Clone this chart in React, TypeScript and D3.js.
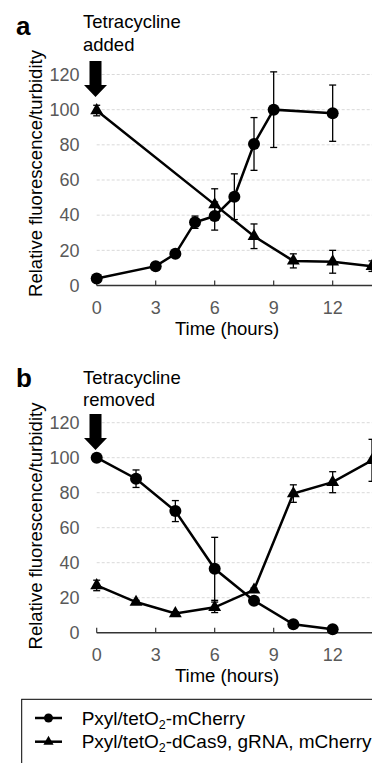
import { useEffect, useRef } from 'react';
import * as d3 from 'd3';

const FONT = '"Liberation Sans", Arial, sans-serif';

// panel a: tetracycline added
const HOURS_A_MCHERRY = [0, 3, 4, 5, 6, 7, 8, 9, 12];
const VALUES_A_MCHERRY = [4, 11, 18, 36, 39.5, 50.5, 80.5, 100, 98];
const ERRORS_A_MCHERRY = [1, 1, 1, 3.5, 8, 13, 15, 21.5, 16];
const HOURS_A_DCAS9 = [0, 6, 8, 10, 12, 14];
const VALUES_A_DCAS9 = [99.5, 46, 28, 14, 13.5, 11];
const ERRORS_A_DCAS9 = [3, 9, 7, 4, 6.5, 3];

// panel b: tetracycline removed
const HOURS_B_MCHERRY = [0, 2, 4, 6, 8, 10, 12];
const VALUES_B_MCHERRY = [100, 88, 69.5, 36.5, 18.3, 4.8, 2];
const ERRORS_B_MCHERRY = [1, 5, 6, 18, 1, 1, 0.5];
const HOURS_B_DCAS9 = [0, 2, 4, 6, 8, 10, 12, 14];
const VALUES_B_DCAS9 = [27, 17.5, 11, 14.5, 24.5, 79.5, 86, 98.5];
const ERRORS_B_DCAS9 = [3, 1, 1, 3, 1, 5, 6, 12];

const X_TICKS = [0, 3, 6, 9, 12];
const Y_TICKS = [0, 20, 40, 60, 80, 100, 120];
const LEGEND_LABELS = [
  ['Pxyl/tetO', '2', '-mCherry'],
  ['Pxyl/tetO', '2', '-dCas9, gRNA, mCherry'],
];

interface Series {
  hours: number[];
  values: number[];
  errors: number[];
  marker: 'circle' | 'triangle';
}

interface PanelConfig {
  letter: string;
  note: string[];
  y0: number;
  y120: number;
  titleCenter: number;
  letterY: number;
  noteY: number;
  noteGap: number;
  arrowTop: number;
  series: Series[];
}

const PANELS: PanelConfig[] = [
  {
    letter: 'a',
    note: ['Tetracycline', 'added'],
    y0: 285.5,
    y120: 74.5,
    titleCenter: 173.5,
    letterY: 35,
    noteY: 28,
    noteGap: 22.5,
    arrowTop: 61,
    series: [
      { hours: HOURS_A_DCAS9, values: VALUES_A_DCAS9, errors: ERRORS_A_DCAS9, marker: 'triangle' },
      { hours: HOURS_A_MCHERRY, values: VALUES_A_MCHERRY, errors: ERRORS_A_MCHERRY, marker: 'circle' },
    ],
  },
  {
    letter: 'b',
    note: ['Tetracycline', 'removed'],
    y0: 632.7,
    y120: 422.7,
    titleCenter: 526,
    letterY: 387,
    noteY: 384,
    noteGap: 21.5,
    arrowTop: 414,
    series: [
      { hours: HOURS_B_DCAS9, values: VALUES_B_DCAS9, errors: ERRORS_B_DCAS9, marker: 'triangle' },
      { hours: HOURS_B_MCHERRY, values: VALUES_B_MCHERRY, errors: ERRORS_B_MCHERRY, marker: 'circle' },
    ],
  },
];

export default function App() {
  const svgRef = useRef<SVGSVGElement>(null);
  const width = 372;
  const height = 763;

  useEffect(() => {
    if (!svgRef.current) return;
    const svg = d3.select(svgRef.current);
    svg.selectAll('*').remove();

    const xScale = d3.scaleLinear().domain([0, 14]).range([96.7, 372]);
    const triangle = d3.symbol().type(d3.symbolTriangle).size(72);

    PANELS.forEach(panel => {
      const g = svg.append('g');
      const yScale = d3.scaleLinear().domain([0, 120]).range([panel.y0, panel.y120]);

      // gridlines
      g.selectAll('.grid')
        .data(Y_TICKS.filter(t => t > 0))
        .enter()
        .append('line')
        .attr('x1', xScale(0))
        .attr('x2', width)
        .attr('y1', d => yScale(d))
        .attr('y2', d => yScale(d))
        .attr('stroke', '#d9d9d9')
        .attr('stroke-width', 1)
        .attr('stroke-dasharray', '3,2');

      // y tick labels (no axis line)
      g.selectAll('.ytick')
        .data(Y_TICKS)
        .enter()
        .append('text')
        .attr('x', 79.5)
        .attr('y', d => yScale(d))
        .attr('dy', '0.35em')
        .attr('text-anchor', 'end')
        .attr('fill', '#595959')
        .attr('font-size', '18px')
        .attr('font-family', FONT)
        .text(d => d);

      // x axis
      g.append('line')
        .attr('x1', xScale(0))
        .attr('x2', width)
        .attr('y1', yScale(0))
        .attr('y2', yScale(0))
        .attr('stroke', '#333')
        .attr('stroke-width', 1.5);

      g.selectAll('.xtickmark')
        .data(X_TICKS)
        .enter()
        .append('line')
        .attr('x1', d => xScale(d))
        .attr('x2', d => xScale(d))
        .attr('y1', yScale(0))
        .attr('y2', yScale(0) - 5)
        .attr('stroke', '#333')
        .attr('stroke-width', 1.2);

      g.selectAll('.xtick')
        .data(X_TICKS)
        .enter()
        .append('text')
        .attr('x', d => xScale(d))
        .attr('y', yScale(0) + 28.5)
        .attr('text-anchor', 'middle')
        .attr('fill', '#595959')
        .attr('font-size', '18px')
        .attr('font-family', FONT)
        .text(d => d);

      g.append('text')
        .attr('x', 227)
        .attr('y', yScale(0) + 49)
        .attr('text-anchor', 'middle')
        .attr('fill', '#000')
        .attr('font-size', '18.5px')
        .attr('font-family', FONT)
        .text('Time (hours)');

      g.append('text')
        .attr('transform', `translate(41.5,${panel.titleCenter}) rotate(-90)`)
        .attr('text-anchor', 'middle')
        .attr('fill', '#000')
        .attr('font-size', '18.5px')
        .attr('font-family', FONT)
        .text('Relative fluorescence/turbidity');

      // panel letter + note
      g.append('text')
        .attr('x', 16)
        .attr('y', panel.letterY)
        .attr('font-weight', 'bold')
        .attr('font-size', '26px')
        .attr('font-family', FONT)
        .attr('fill', '#000')
        .text(panel.letter);

      panel.note.forEach((line, i) => {
        g.append('text')
          .attr('x', 83)
          .attr('y', panel.noteY + i * panel.noteGap)
          .attr('font-size', '18.5px')
          .attr('font-family', FONT)
          .attr('fill', '#000')
          .text(line);
      });

      // arrow pointing at time 0
      const ax = xScale(0) - 1.2;
      const shaftBottom = panel.arrowTop + 24;
      const tip = shaftBottom + 12;
      g.append('path')
        .attr('d', `M${ax - 6},${panel.arrowTop} L${ax + 6},${panel.arrowTop} L${ax + 6},${shaftBottom} L${ax + 11.5},${shaftBottom} L${ax},${tip} L${ax - 11.5},${shaftBottom} L${ax - 6},${shaftBottom} Z`)
        .attr('fill', '#000');

      // series
      panel.series.forEach(s => {
        const pts = s.hours.map((h, i) => ({ h, v: s.values[i], e: s.errors[i] }));

        const eb = g.append('g');
        pts.forEach(p => {
          const x = xScale(p.h);
          const yTop = yScale(p.v + p.e);
          const yBot = yScale(Math.max(0, p.v - p.e));
          eb.append('line').attr('x1', x).attr('x2', x).attr('y1', yTop).attr('y2', yBot)
            .attr('stroke', '#000').attr('stroke-width', 1.3);
          [yTop, yBot].forEach(y => {
            eb.append('line').attr('x1', x - 3.5).attr('x2', x + 3.5).attr('y1', y).attr('y2', y)
              .attr('stroke', '#000').attr('stroke-width', 1.3);
          });
        });

        const line = d3.line<{ h: number; v: number }>()
          .x(d => xScale(d.h))
          .y(d => yScale(d.v));

        g.append('path')
          .datum(pts)
          .attr('fill', 'none')
          .attr('stroke', '#000')
          .attr('stroke-width', 2.5)
          .attr('d', line);

        if (s.marker === 'circle') {
          g.selectAll(null)
            .data(pts)
            .enter()
            .append('circle')
            .attr('cx', d => xScale(d.h))
            .attr('cy', d => yScale(d.v))
            .attr('r', 6)
            .attr('fill', '#000');
        } else {
          g.selectAll(null)
            .data(pts)
            .enter()
            .append('path')
            .attr('transform', d => `translate(${xScale(d.h)},${yScale(d.v)})`)
            .attr('d', triangle)
            .attr('fill', '#000');
        }
      });
    });

    // legend
    const legend = svg.append('g');
    legend.append('rect')
      .attr('x', 21.7)
      .attr('y', 699.3)
      .attr('width', 400)
      .attr('height', 100)
      .attr('fill', 'none')
      .attr('stroke', '#000')
      .attr('stroke-width', 1);

    const legendTriangle = d3.symbol().type(d3.symbolTriangle).size(45);
    LEGEND_LABELS.forEach((parts, i) => {
      const cy = 718 + i * 23.7;
      legend.append('line')
        .attr('x1', 35).attr('x2', 62).attr('y1', cy).attr('y2', cy)
        .attr('stroke', '#000').attr('stroke-width', 2.5);
      if (i === 0) {
        legend.append('circle').attr('cx', 48.5).attr('cy', cy).attr('r', 4.5).attr('fill', '#000');
      } else {
        legend.append('path').attr('transform', `translate(48.5,${cy})`).attr('d', legendTriangle).attr('fill', '#000');
      }
      const t = legend.append('text')
        .attr('x', 81.7)
        .attr('y', cy + 6.6)
        .attr('font-size', '19px')
        .attr('font-family', FONT)
        .attr('fill', '#000');
      t.append('tspan').text(parts[0]);
      t.append('tspan').attr('font-size', '12.5px').attr('dy', 4).text(parts[1]);
      t.append('tspan').attr('dy', -4).text(parts[2]);
    });
  }, []);

  return (
    <svg
      ref={svgRef}
      width={width}
      height={height}
      style={{ position: 'absolute', left: 0, top: 0, background: '#fff' }}
    />
  );
}
